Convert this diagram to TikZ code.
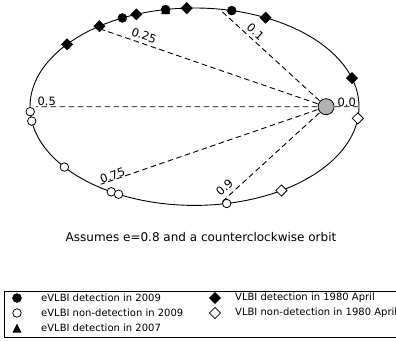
\documentclass[tikz,border=0pt]{standalone}
\usepackage{fontspec}
\setmainfont{DejaVu Sans}
\usetikzlibrary{shapes.geometric,calc}
\definecolor{focusgrey}{gray}{0.7}
\begin{document}
\begin{tikzpicture}[x=1pt,y=-1pt,
  orbit/.style={line width=0.9pt},
  phaseline/.style={line width=0.9pt, dash pattern=on 5.5pt off 3.5pt},
  fcirc/.style={circle, draw=black, fill=black, inner sep=0pt, minimum size=9pt},
  ocirc/.style={circle, draw=black, fill=white, line width=0.8pt, inner sep=0pt, minimum size=8.5pt},
  fdiam/.style={diamond, aspect=1, draw=black, fill=black, inner sep=0pt, minimum size=11.5pt},
  odiam/.style={diamond, aspect=1, draw=black, fill=white, line width=0.8pt, inner sep=0pt, minimum size=11.5pt},
  tri/.pic={\fill[black] (0,-4.5) -- (4.5,4.5) -- (-4.5,4.5) -- cycle;},
  phaselabel/.style={inner sep=0pt, font=\fontsize{11.5}{13}\selectfont},
  legtext/.style={anchor=west, inner sep=0pt, font=\fontsize{10}{12}\selectfont}]
\useasboundingbox (0,0) rectangle (396,340);
\clip (0,0) rectangle (396,340);

% orbit centre (194.5,106.7), semi-axes 164.5 x 98.7, focus of the e=0.8 orbit
\coordinate (O) at (194.5,106.7);
\coordinate (F) at (326.1,106.7);
\draw[orbit] (O) ellipse [x radius=164.5pt, y radius=98.7pt];

% orbital phases, placed by eccentric anomaly
\foreach \n/\t in {P0/0, P1/81.3, P25/126.7, P5/180, P75/233.3, P9/278.7}
  \coordinate (\n) at ({194.5+164.5*cos(\t)},{106.7-98.7*sin(\t)});

\foreach \p in {P0,P1,P25,P5,P75,P9}
  \draw[phaseline] (F) -- ($(F)!0.98!(\p)$);

\node[circle, draw=black, fill=focusgrey, line width=0.8pt, inner sep=0pt, minimum size=16pt] (star) at (F) {};

\node[phaselabel] (l0)  at (346.7,102.7) {0.0};
\node[phaselabel, rotate=-42] (l1)  at (255.5,32) {0.1};
\node[phaselabel, rotate=-20] (l25) at (144,35.5) {0.25};
\node[phaselabel] (l5)  at (46.7,101.7) {0.5};
\node[phaselabel, rotate=20] (l75) at (112.5,175.5) {0.75};
\node[phaselabel, rotate=43] (l9)  at (224.5,187.5) {0.9};

% VLBI 1980 April: detections and non-detections
\foreach \n/\t in {vd1/140.8, vd2/125.3, vd3/110.7, vd4/92.7, vd5/64.4, vd6/16.8}
  \node[fdiam] (\n) at ({194.5+164.5*cos(\t)},{106.7-98.7*sin(\t)}) {};
\foreach \n/\t in {vn1/353.2, vn2/301.9}
  \node[odiam] (\n) at ({194.5+164.5*cos(\t)},{106.7-98.7*sin(\t)}) {};
% eVLBI 2009: detections and non-detections
\foreach \n/\t in {ed1/116, ed2/100.1, ed3/76.9}
  \node[fcirc] (\n) at ({194.5+164.5*cos(\t)},{106.7-98.7*sin(\t)}) {};
\foreach \n/\t in {en1/182.9, en2/188.4, en3/217.7, en4/239.6, en5/242.5, en6/281.3}
  \node[ocirc] (\n) at ({194.5+164.5*cos(\t)},{106.7-98.7*sin(\t)}) {};
% eVLBI 2007 detection
\coordinate (e7) at ({194.5+164.5*cos(100.1)},{106.7-98.7*sin(100.1)});
\pic at (e7) {tri};

\node[font=\fontsize{12}{14}\selectfont] (cap) at (201,237) {Assumes e=0.8 and a counterclockwise orbit};

% legend
\draw[line width=0.8pt] (4,291) rectangle (420,337);
\node[fcirc] (k1) at (17,298) {};
\node[legtext] (t1) at (41,298) {eVLBI detection in 2009};
\node[ocirc] (k2) at (17,313) {};
\node[legtext] (t2) at (41,313) {eVLBI non-detection in 2009};
\coordinate (k3) at (17,328);
\pic at (k3) {tri};
\node[legtext] (t3) at (41,328) {eVLBI detection in 2007};
\node[fdiam] (k4) at (215,298) {};
\node[legtext] (t4) at (235,298) {VLBI detection in 1980 April};
\node[odiam] (k5) at (215,313) {};
\node[legtext] (t5) at (235,313) {VLBI non-detection in 1980 April};
\end{tikzpicture}
\end{document}
